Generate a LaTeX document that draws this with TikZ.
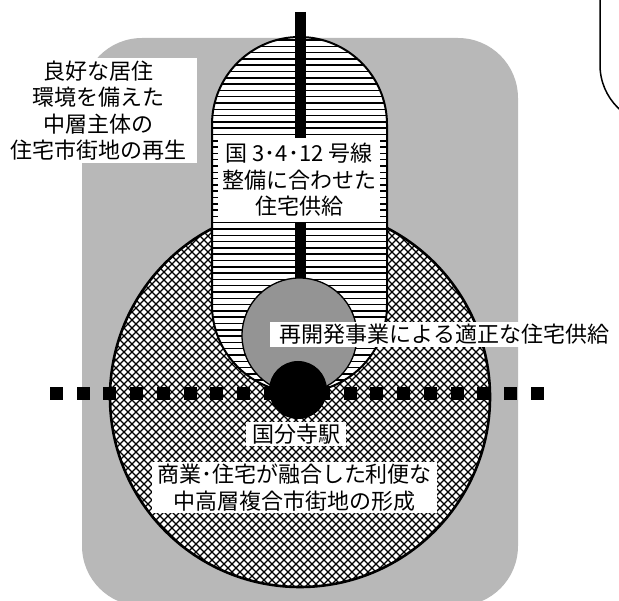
\documentclass[tikz,border=0pt]{standalone}
\usepackage{fontspec}
\newfontfamily\jp{Noto Sans CJK JP}
\definecolor{bggray}{gray}{0.72}
\definecolor{smallgray}{gray}{0.58}
\tikzset{
  label box/.style={fill=white, inner sep=0pt, align=center, font=\jp\fontsize{22}{26.5}\selectfont},
  hatch/.style={line width=1.2pt, black},
  hline/.style={line width=1.5pt, black},
  railsq/.style={fill=black},
}
\begin{document}
\begin{tikzpicture}[x=1pt,y=-1pt]
\useasboundingbox (0,0) rectangle (619,601);
\clip (0,0) rectangle (619,601);
% background area
\fill[bggray, rounded corners=60pt] (82,38) rectangle (518,606);
% big circle with crosshatch
\fill[white] (300,397) circle (190pt);
\begin{scope}
  \clip (300,397) circle (190pt);
  \foreach \c in {-500,-492,...,1100} {
    \draw[hatch] (\c,0) -- ++(620,620);
    \draw[hatch] (\c,0) -- ++(-620,620);
  }
\end{scope}
\draw[line width=2.6pt] (300,397) circle (190pt);
% stadium with horizontal lines
\fill[white, rounded corners=87.5pt] (212,37) rectangle (387,392.5);
\begin{scope}
  \clip[rounded corners=87.5pt] (212,37) rectangle (387,392.5);
  \foreach \y in {40,46.3,...,395} {
    \draw[hline] (200,\y) -- (400,\y);
  }
\end{scope}
\draw[line width=2pt, rounded corners=87.5pt] (212,37) rectangle (387,392.5);
% road
\coordinate (roadtop) at (300,12);
\coordinate (roadend) at (300,340);
\draw[line width=11pt] (roadtop) -- (roadend);
% small redevelopment circle
\filldraw[fill=smallgray, draw=black, line width=1.3pt] (299.5,335.5) circle (57.5pt);
% station
\node[circle, fill=black, minimum size=58pt, inner sep=0pt] (station) at (298,390) {};
% railway
\foreach \i in {0,...,18} {
  \fill[railsq] (50+\i*26.7,387) rectangle ++(13,13);
}
% labels
\node[label box, minimum width=197pt, minimum height=105pt] (t1) at (98.5,110.5)
  {良好な居住\\環境を備えた\\中層主体の\\住宅市街地の再生};
\node[label box, minimum width=162pt, minimum height=84pt] (t2) at (299,180)
  {国 3･4･12 号線\\整備に合わせた\\住宅供給};
\node[label box, minimum width=349pt, minimum height=25pt] (t3) at (444.5,334.5)
  {再開発事業による適正な住宅供給};
\node[label box, minimum width=100pt, minimum height=24pt] (t4) at (296,434)
  {国分寺駅};
\node[label box, minimum width=285pt, minimum height=51pt] (t5) at (294.5,487.5)
  {商業･住宅が融合した利便な\\中高層複合市街地の形成};
% partial frame at top right
\draw[line width=1.5pt, rounded corners=60pt] (600,-10) -- (600,125) -- (700,125);
\end{tikzpicture}
\end{document}
